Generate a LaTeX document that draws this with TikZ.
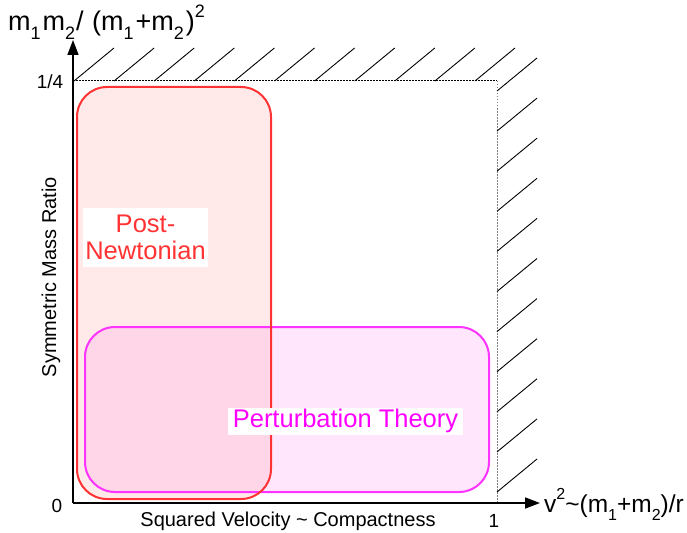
\documentclass[tikz,border=0pt]{standalone}
\usepackage{fontspec}
\setmainfont{Liberation Sans}
\usetikzlibrary{arrows.meta}
\definecolor{pnred}{RGB}{255,51,51}
\definecolor{pnfill}{RGB}{255,233,233}
\definecolor{ptmag}{RGB}{255,51,255}
\definecolor{pttext}{RGB}{255,0,255}
\definecolor{ptfill}{RGB}{255,230,252}
\definecolor{ovfill}{RGB}{255,214,232}
\newcommand\lo[2][17]{\raisebox{-0.33em}{\fontsize{#1}{#1}\selectfont #2}}
\newcommand\hi[2][17]{\raisebox{0.5em}{\fontsize{#1}{#1}\selectfont #2}}
\tikzset{
  axisline/.style={line width=1.6pt,-{Triangle[length=15pt,width=11pt]}},
  hatchline/.style={line width=0.9pt},
  boundline/.style={line width=1pt,dash pattern=on 1.5pt off 1.5pt},
  regionbox/.style={rounded corners=30pt,line width=2pt},
  ticklabel/.style={font=\fontsize{19}{19}\selectfont,inner sep=0pt},
  axlabel/.style={font=\fontsize{20}{20}\selectfont,inner sep=0pt},
  biglabel/.style={font=\fontsize{27}{27}\selectfont,inner sep=0pt},
  xbiglabel/.style={font=\fontsize{24.5}{24.5}\selectfont,inner sep=0pt},
}
\begin{document}
\begin{tikzpicture}[x=1pt,y=-1pt]
\useasboundingbox (0,0) rectangle (687,532);
% regions
\coordinate (rA) at (77,87); \coordinate (rB) at (271,499);
\coordinate (mA) at (85,327); \coordinate (mB) at (489,492);
\fill[pnfill,regionbox] (rA) rectangle (rB);
\fill[ptfill,regionbox] (mA) rectangle (mB);
\begin{scope}
  \clip[rounded corners=30pt] (rA) rectangle (rB);
  \fill[ovfill,regionbox] (mA) rectangle (mB);
\end{scope}
\draw[ptmag,regionbox] (mA) rectangle (mB);
\draw[pnred,regionbox] (rA) rectangle (rB);
% boundary
\coordinate (tl) at (73,81); \coordinate (tr) at (497,81); \coordinate (br) at (497,503);
\draw[boundline,black] (tl) -- (tr);
\draw[boundline,gray] (tr) -- (br);
\foreach \k in {0,...,10}{
  \draw[hatchline] ({74+40.1*\k},81) -- ++(40,-33);
  \draw[hatchline] (497,{91+40.1*\k}) -- ++(40,-33);
}
% axes
\coordinate (origin) at (73,503);
\coordinate (ytip) at (73,40);
\coordinate (xtip) at (540,503);
\draw[axisline] (origin) -- (ytip);
\draw[axisline] (origin) -- (xtip);
% labels
\node[biglabel,anchor=base west] (ylab) at (8,31) {m\lo[18]{1}\kern2pt m\lo[18]{2}\kern1pt/ \kern1pt(m\lo[18]{1}\kern2pt+m\lo[18]{2}\kern2pt)\hi[18]{2}};
\node[xbiglabel,anchor=base west] (xlab) at (544,512) {v\hi[16]{2}\char`\~(m\lo[16]{1}+m\lo[16]{2})/r};
\node[ticklabel] (q) at (50,82) {1/4};
\node[ticklabel] (z) at (57,506) {0};
\node[ticklabel] (one) at (494,521) {1};
\node[axlabel] (xname) at (288,521) {Squared Velocity \char`\~{} Compactness};
\node[axlabel,rotate=90] (yname) at (51,277) {Symmetric Mass Ratio};
\node[fill=white,text=pnred,align=center,font=\fontsize{25.5}{27}\selectfont,inner sep=2pt,minimum width=125pt,minimum height=59pt] (pn) at (145.5,237.5) {Post-\\Newtonian};
\node[fill=white,text=pttext,font=\fontsize{25.5}{27}\selectfont,inner sep=0pt,minimum width=235pt,minimum height=27pt] (pt) at (345.5,421) {Perturbation Theory};
\end{tikzpicture}
\end{document}
